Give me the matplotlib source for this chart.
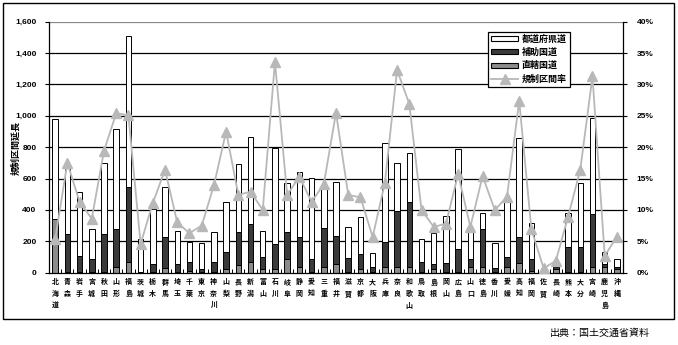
import numpy as np
import matplotlib
matplotlib.use('Agg')
import matplotlib.pyplot as plt
from matplotlib.patches import Rectangle, Patch
from matplotlib.lines import Line2D
from matplotlib.ticker import FuncFormatter, MultipleLocator

plt.rcParams['font.family'] = ['Noto Sans CJK JP', 'DejaVu Sans']

# 都道府県
prefs = ['北海道', '青森', '岩手', '宮城', '秋田', '山形', '福島', '茨城', '栃木', '群馬',
         '埼玉', '千葉', '東京', '神奈川', '山梨', '長野', '新潟', '富山', '石川', '岐阜',
         '静岡', '愛知', '三重', '福井', '滋賀', '京都', '大阪', '兵庫', '奈良', '和歌山',
         '鳥取', '島根', '岡山', '広島', '山口', '徳島', '香川', '愛媛', '高知', '福岡',
         '佐賀', '長崎', '熊本', '大分', '宮崎', '鹿児島', '沖縄']

# 直轄国道 (km)
chokkatsu = [340, 5, 5, 5, 5, 38, 66, 2, 3, 28,
             3, 8, 3, 5, 21, 49, 66, 21, 21, 85,
             34, 6, 38, 53, 3, 21, 3, 34, 34, 38,
             3, 21, 3, 3, 38, 34, 3, 34, 64, 13,
             2, 21, 3, 3, 34, 38, 21]
# 直轄+補助 (km)
kokudo_top = [340, 244, 106, 85, 244, 276, 548, 6, 55, 225,
              53, 66, 21, 66, 130, 257, 308, 98, 181, 257,
              225, 85, 283, 234, 91, 117, 34, 193, 393, 453,
              66, 53, 60, 150, 85, 276, 28, 98, 230, 85,
              4, 38, 166, 162, 372, 55, 34]
# 合計 (km)
total = [980, 665, 516, 280, 701, 914, 1509, 212, 404, 548,
         266, 198, 191, 257, 453, 691, 863, 266, 797, 570,
         644, 606, 533, 580, 293, 357, 127, 829, 697, 765,
         212, 251, 359, 786, 276, 378, 187, 478, 856, 314,
         8, 60, 378, 574, 984, 130, 85]
# 規制区間率 (%)
rate = [5.3, 17.5, 11.3, 8.6, 19.4, 25.4, 25.1, 4.6, 11.1, 16.4,
        8.0, 6.3, 7.5, 13.9, 22.5, 12.4, 12.9, 10.0, 33.6, 12.4,
        15.3, 11.3, 14.1, 25.5, 12.4, 12.0, 5.7, 14.3, 32.3, 26.9,
        10.0, 7.3, 7.8, 15.7, 7.3, 15.4, 10.0, 12.1, 27.4, 6.9,
        0.7, 1.9, 8.9, 16.4, 31.3, 2.7, 5.7]

chokkatsu = np.array(chokkatsu)
hojo = np.array(kokudo_top) - chokkatsu
todofuken = np.array(total) - np.array(kokudo_top)
x = np.arange(len(prefs))

fig = plt.figure(figsize=(6.78, 3.45), dpi=100)
ax = fig.add_axes([0.0723, 0.2096, 0.8466, 0.7275])

# 外枠
fig.patches.append(Rectangle((0.0044, 0.0754), 0.990, 0.9156, transform=fig.transFigure,
                             fill=False, edgecolor='black', linewidth=1.0))

for yv in range(200, 1600, 200):
    ax.axhline(yv, color='black', linewidth=0.9, zorder=0)
ax.axhline(1600, color='#888888', linewidth=0.9, zorder=0)

w = 0.45
ax.bar(x, chokkatsu, w, color='#8c8c8c', edgecolor='black', linewidth=0.7, zorder=2)
ax.bar(x, hojo, w, bottom=chokkatsu, color='#3a3a3a', edgecolor='black', linewidth=0.7, zorder=2)
ax.bar(x, todofuken, w, bottom=chokkatsu + hojo, color='white', edgecolor='black',
       linewidth=0.7, zorder=2)

ax.set_xlim(-0.5, len(prefs) - 0.5)
ax.set_ylim(0, 1600)
ax.yaxis.set_major_locator(MultipleLocator(200))
ax.yaxis.set_major_formatter(FuncFormatter(lambda v, p: f'{int(v):,}'))
ax.spines['top'].set_visible(False)
ax.spines['right'].set_visible(False)
ax.spines['left'].set_linewidth(0.9)
ax.spines['bottom'].set_linewidth(0.9)

ax.set_xticks(x)
ax.set_xticklabels(['\n'.join(p) for p in prefs])
ax.set_xticks(np.arange(-0.5, len(prefs), 1), minor=True)
ax.tick_params(axis='x', which='major', length=0, pad=4)
ax.tick_params(axis='x', which='minor', length=3, direction='in', width=0.7)
for t in ax.get_xticklabels():
    t.set_fontsize(5)
    t.set_fontweight('bold')
    t.set_linespacing(1.75)
    t.set_verticalalignment('top')
ax.tick_params(axis='y', length=3, width=0.8, pad=6)
for t in ax.get_yticklabels():
    t.set_family(['Liberation Sans', 'DejaVu Sans'])
    t.set_fontsize(6)
    t.set_fontweight('bold')

ax.set_ylabel('規制区間延長', fontsize=6.5, fontweight='bold')
ax.yaxis.set_label_coords(-0.05, 0.497)

ax2 = ax.twinx()
ax2.plot(x, np.array(rate) / 100, color='#b8b8b8', linewidth=1.3, marker='^',
         markersize=6.5, markerfacecolor='#b8b8b8', markeredgecolor='#b8b8b8', zorder=3)
ax2.set_ylim(0, 0.4)
ax2.yaxis.set_major_locator(MultipleLocator(0.05))
ax2.yaxis.set_major_formatter(FuncFormatter(lambda v, p: f'{v * 100:.0f}%'))
ax2.spines['top'].set_visible(False)
ax2.spines['left'].set_visible(False)
ax2.spines['bottom'].set_visible(False)
ax2.spines['right'].set_linewidth(0.9)
ax2.tick_params(axis='y', length=3, width=0.8, pad=7)
for t in ax2.get_yticklabels():
    t.set_family(['Liberation Sans', 'DejaVu Sans'])
    t.set_fontsize(6)
    t.set_fontweight('bold')

handles = [Patch(facecolor='white', edgecolor='black', linewidth=0.8),
           Patch(facecolor='#3a3a3a', edgecolor='black', linewidth=0.8),
           Patch(facecolor='#8c8c8c', edgecolor='black', linewidth=0.8),
           Line2D([0], [0], color='#b8b8b8', linewidth=1.3, marker='^', markersize=6.5)]
labels = ['都道府県道', '補助国道', '直轄国道', '規制区間率']
leg = ax2.legend(handles, labels, loc='upper left', bbox_to_anchor=(0.765, 0.96),
                 frameon=True, fancybox=False, edgecolor='black', framealpha=1,
                 prop={'size': 6.5, 'weight': 'bold'}, handlelength=3.0, handleheight=0.45,
                 labelspacing=0.45, borderpad=0.35, handletextpad=0.4, borderaxespad=0)
leg.get_frame().set_linewidth(0.9)

fig.text(0.958, 0.02, '出典：国土交通省資料', ha='right', va='bottom', fontsize=7.2)

fig.savefig('out.png', dpi=100)
